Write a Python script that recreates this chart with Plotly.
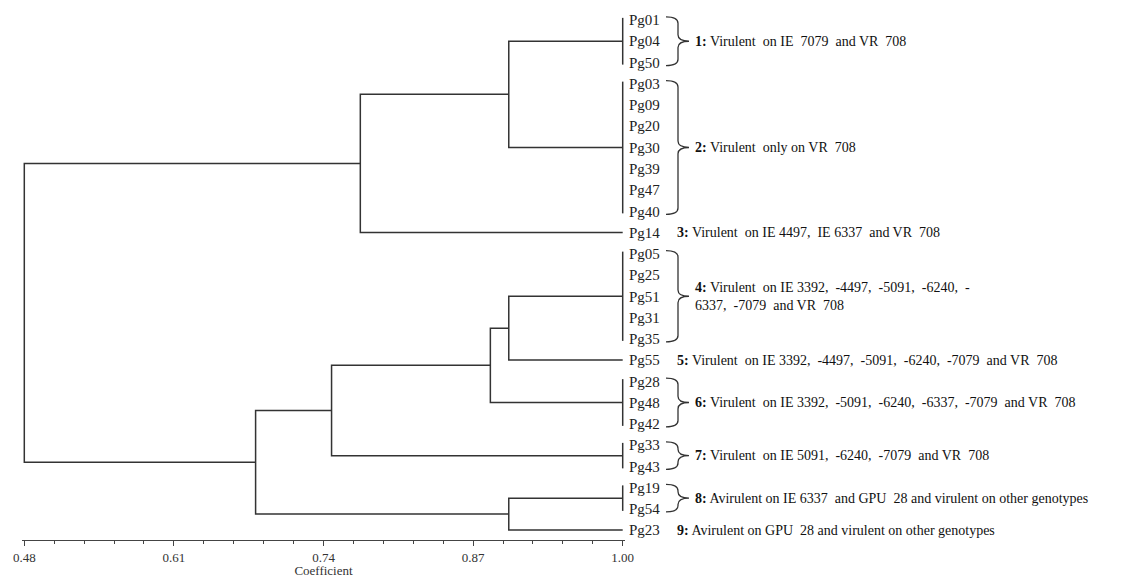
import plotly.graph_objects as go

# ---------------- data ----------------
leaves = ["Pg01", "Pg04", "Pg50", "Pg03", "Pg09", "Pg20", "Pg30", "Pg39", "Pg47", "Pg40",
          "Pg14", "Pg05", "Pg25", "Pg51", "Pg31", "Pg35", "Pg55", "Pg28", "Pg48", "Pg42",
          "Pg33", "Pg43", "Pg19", "Pg54", "Pg23"]

# groups of identical isolates (coefficient 1.00)
group_names = ["G1", "G2", "G3", "G4", "G5", "G6", "G7", "G8", "G9"]
group_members = [
    ["Pg01", "Pg04", "Pg50"],
    ["Pg03", "Pg09", "Pg20", "Pg30", "Pg39", "Pg47", "Pg40"],
    ["Pg14"],
    ["Pg05", "Pg25", "Pg51", "Pg31", "Pg35"],
    ["Pg55"],
    ["Pg28", "Pg48", "Pg42"],
    ["Pg33", "Pg43"],
    ["Pg19", "Pg54"],
    ["Pg23"],
]
group_numbers = ["1", "2", "3", "4", "5", "6", "7", "8", "9"]
S = "\u00a0 "
group_texts = [
    "Virulent" + S + "on IE" + S + "7079" + S + "and VR" + S + "708",
    "Virulent" + S + "only on VR" + S + "708",
    "Virulent" + S + "on IE 4497," + S + "IE 6337" + S + "and VR" + S + "708",
    "Virulent" + S + "on IE 3392," + S + "-4497," + S + "-5091," + S + "-6240," + S + "-<br>6337," + S + "-7079" + S + "and VR" + S + "708",
    "Virulent" + S + "on IE 3392," + S + "-4497," + S + "-5091," + S + "-6240," + S + "-7079" + S + "and VR" + S + "708",
    "Virulent" + S + "on IE 3392," + S + "-5091," + S + "-6240," + S + "-6337," + S + "-7079" + S + "and VR" + S + "708",
    "Virulent" + S + "on IE 5091," + S + "-6240," + S + "-7079" + S + "and VR" + S + "708",
    "Avirulent on IE 6337" + S + "and GPU" + S + "28 and virulent on other genotypes",
    "Avirulent on GPU" + S + "28 and virulent on other genotypes",
]

# hierarchical merges (node, left child, right child, similarity coefficient)
merge_nodes = ["A", "B", "C", "D", "E", "H", "F", "R"]
merge_left = ["G1", "A", "G4", "C", "D", "G8", "E", "B"]
merge_right = ["G2", "G3", "G5", "G6", "G7", "G9", "H", "F"]
merge_coef = [0.901, 0.772, 0.901, 0.885, 0.747, 0.901, 0.681, 0.48]

tick_vals = [0.48, 0.61, 0.74, 0.87, 1.00]
tick_text = ["0.48", "0.61", "0.74", "0.87", "1.00"]

# ---------------- layout geometry ----------------
# the page body adds an 8px margin, so the figure is 8px smaller than the window
W, Hh = 1125, 570
ML, MR, MT, MB = 14, 508, 2, 38
PW = W - ML - MR


def pxp(dx):
    """paper x for a pixel offset to the right of the plot area"""
    return 1 + dx / PW


LINE = "#333333"
FONT = "Liberation Serif"

idx = {name: i for i, name in enumerate(leaves)}

pos = {}
xs, ys = [], []
for gname, mem in zip(group_names, group_members):
    a, b = idx[mem[0]], idx[mem[-1]]
    if b > a:
        xs += [1.0, 1.0, None]
        ys += [a - 0.1, b + 0.1, None]
    pos[gname] = (1.0, (a + b) / 2)

for node, l, r, h in zip(merge_nodes, merge_left, merge_right, merge_coef):
    xl, yl = pos[l]
    xr, yr = pos[r]
    xs += [xl, h, h, xr, None]
    ys += [yl, yl, yr, yr, None]
    pos[node] = (h, (yl + yr) / 2)

fig = go.Figure()
fig.add_trace(go.Scatter(x=xs, y=ys, mode="lines",
                         line=dict(color=LINE, width=1.5),
                         hoverinfo="skip", showlegend=False))

shapes = []
annotations = []
for gname, mem, num, txt in zip(group_names, group_members, group_numbers, group_texts):
    a, b = idx[mem[0]], idx[mem[-1]]
    ym = (a + b) / 2
    if b > a:
        x0, x1, x2 = pxp(41), pxp(53), pxp(64)
        yt, yb = a - 0.15, b + 0.15
        r = 0.3
        path = (f"M {x0},{yt} Q {x1},{yt} {x1},{yt + r} L {x1},{ym - r} "
                f"Q {x1},{ym} {x2},{ym} Q {x1},{ym} {x1},{ym + r} "
                f"L {x1},{yb - r} Q {x1},{yb} {x0},{yb}")
        shapes.append(dict(type="path", path=path, xref="paper", yref="y",
                           line=dict(color=LINE, width=1.3)))
        tx = pxp(68)
    else:
        tx = pxp(50)
    annotations.append(dict(x=tx, y=ym, xref="paper", yref="y",
                            xanchor="left", yanchor="middle", align="left",
                            showarrow=False,
                            text=f"<b>{num}:</b> {txt}",
                            font=dict(family=FONT, size=14, color="#111111")))

fig.update_layout(
    width=W, height=Hh,
    margin=dict(l=ML, r=MR, t=MT, b=MB, autoexpand=False),
    paper_bgcolor="white", plot_bgcolor="white",
    shapes=shapes, annotations=annotations,
    showlegend=False,
    xaxis=dict(range=[0.478, 1.002], showgrid=False, zeroline=False,
               tickmode="array", tickvals=tick_vals, ticktext=tick_text,
               ticks="outside", ticklen=5, tickwidth=1.2, tickcolor="#444",
               showline=True, linecolor="#444", linewidth=1.2,
               minor=dict(ticks="outside", ticklen=3, tickwidth=1.2, tickcolor="#444",
                          tick0=0.48, dtick=0.026),
               tickfont=dict(family=FONT, size=13, color="#333"),
               title=dict(text="Coefficient", standoff=2,
                          font=dict(family=FONT, size=13, color="#333")),
               automargin=False, fixedrange=True),
    yaxis=dict(range=[len(leaves) - 1 + 0.47, -0.47], showgrid=False, zeroline=False,
               side="right", tickmode="array",
               tickvals=list(range(len(leaves))), ticktext=leaves,
               ticks="", showline=False, ticklabelstandoff=3,
               tickfont=dict(family=FONT, size=15, color="#222"),
               automargin=False, fixedrange=True),
)

fig.write_html("out.html")
